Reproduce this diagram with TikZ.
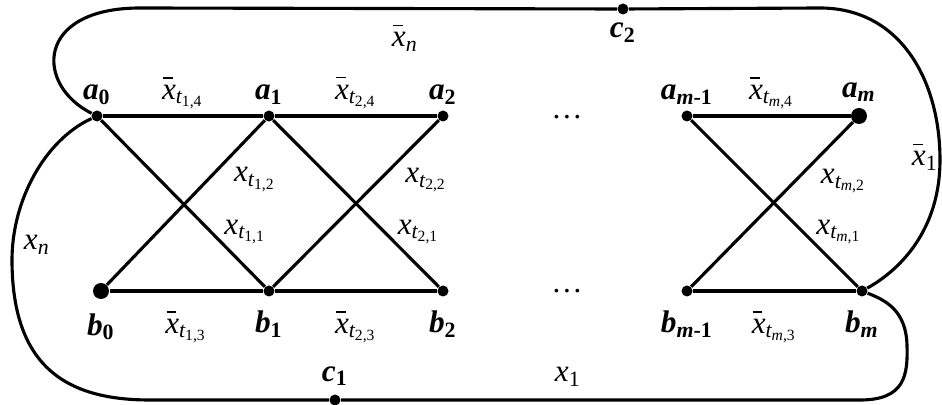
\documentclass[tikz,border=0pt]{standalone}
\usepackage{amsmath}
\usepackage{fontspec}
\setmainfont{Liberation Serif}
\usetikzlibrary{positioning, calc}
\newcommand{\xv}{\textit{x}}
\newcommand{\xb}{\text{\makebox[0pt][l]{\hspace{0.04em}\rule[0.66em]{0.3em}{0.055em}}\textit{x}}}
\newcommand{\lit}[2]{\ensuremath{#1_{\textit{t}_{\text{#2}}}}}
\newcommand{\vlab}[2]{\ensuremath{\textbf{\textit{#1}}_{\textbf{#2}}}}
\tikzset{
    vtx/.style={circle, fill=black, inner sep=0pt, minimum size=4.4pt},
    bigvtx/.style={vtx, minimum size=6.4pt},
    wire/.style={line width=1.25pt, color=black},
    toplab/.style={label distance=1pt, inner sep=1pt},
    botlab/.style={label distance=4.5pt, inner sep=1pt}
}

\begin{document}
\begin{tikzpicture}[x=0.4pt, y=-0.4pt, font=\fontsize{12.5}{15}\selectfont]
    \useasboundingbox (0,0) rectangle (942,405);

    % upper row
    \node (a0) [vtx, label={[toplab]above:\vlab{a}{0}}] at (97,116) {};
    \node (a1) [vtx, label={[toplab]above:\vlab{a}{1}}] at (269,116) {};
    \node (a2) [vtx, label={[toplab]above:\vlab{a}{2}}] at (443,116) {};
    \node (am1) [vtx, label={[toplab]above:\vlab{a}{\textit{m}-1}}] at (687,116) {};
    \node (am) [bigvtx, label={[toplab]above:\vlab{a}{\textit{m}}}] at (859,116) {};

    % lower row
    \node (b0) [bigvtx, label={[botlab]below:\vlab{b}{0}}] at (101,291) {};
    \node (b1) [vtx, label={[botlab]below:\vlab{b}{1}}] at (269,291) {};
    \node (b2) [vtx, label={[botlab]below:\vlab{b}{2}}] at (443,291) {};
    \node (bm1) [vtx, label={[botlab]below:\vlab{b}{\textit{m}-1}}] at (687,291) {};
    \node (bm) [vtx, label={[botlab]below:\vlab{b}{\textit{m}}}] at (862,291) {};

    \node (dtop) at (567,117) {\ldots};
    \node (dbot) at (567,291) {\ldots};

    % clause gadgets
    \foreach \al/\ar/\bl/\br/\idx [count=\k] in {a0/a1/b0/b1/1, a1/a2/b1/b2/2, am1/am/bm1/bm/{\textit{m}}} {
        \draw [wire] (\al) -- node (up\k) [above=-1pt] {\lit{\xb}{\idx,4}} (\ar);
        \draw [wire] (\bl) -- node (dn\k) [below=4pt] {\lit{\xb}{\idx,3}} (\br);
        \draw [wire] (\al) -- node (dr\k) [pos=.67, anchor=west, xshift=1.5pt] {\lit{\xv}{\idx,1}} (\br);
        \draw [wire] (\ar) -- node (ur\k) [pos=.36, anchor=west, xshift=6.5pt] {\lit{\xv}{\idx,2}} (\bl);
    }

    % outer loops
    \node (c2) [vtx, label={[toplab, label distance=2pt]below:\vlab{c}{2}}] at (623,9) {};
    \node (c1) [vtx, label={[toplab, label distance=2pt]above:\vlab{c}{1}}] at (335,400) {};

    \draw [wire] (a0) .. controls (35,85) and (35,8) .. (140,8) -- (c2) -- (820,8)
        .. controls (900,8) and (940,80) .. (940,160)
        .. controls (940,230) and (900,270) .. (bm);
    \draw [wire] (a0) .. controls (45,140) and (12,200) .. (12,260)
        .. controls (12,370) and (70,400) .. (150,400) -- (c1) -- (860,400)
        .. controls (905,400) and (908,375) .. (907,345)
        .. controls (906,310) and (885,300) .. (bm);

    \node (xn) at (37,245) {$\xv_{\textit{n}}$};
    \node (xbn) at (405,38) {$\xb_{\textit{n}}$};
    \node (xb1) at (925,157) {$\xb_{\text{1}}$};
    \node (x1) at (568,377) {$\xv_{\text{1}}$};
\end{tikzpicture}
\end{document}
